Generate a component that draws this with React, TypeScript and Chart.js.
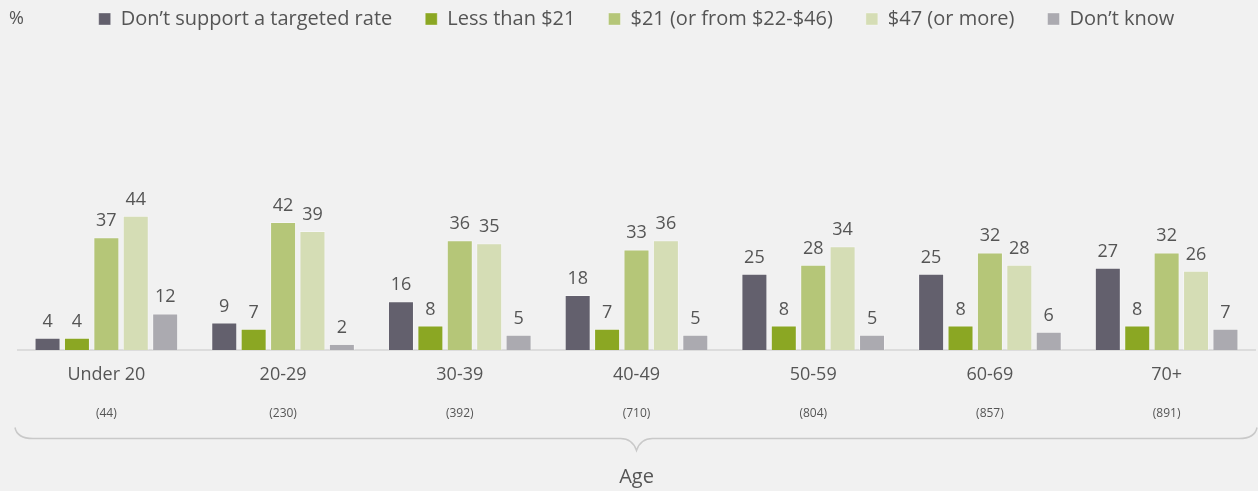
import React, { useEffect, useRef } from "react";
import { Chart, registerables } from "chart.js";

Chart.register(...registerables);

const categories = ["Under 20", "20-29", "30-39", "40-49", "50-59", "60-69", "70+"];
const sampleSizes = ["(44)", "(230)", "(392)", "(710)", "(804)", "(857)", "(891)"];
const seriesNames = [
  "Don\u2019t support a targeted rate",
  "Less than $21",
  "$21 (or from $22-$46)",
  "$47 (or more)",
  "Don\u2019t know",
];
const dontSupport = [4, 9, 16, 18, 25, 25, 27];
const lessThan21 = [4, 7, 8, 7, 8, 8, 8];
const from21 = [37, 42, 36, 33, 28, 32, 32];
const over47 = [44, 39, 35, 36, 34, 28, 26];
const dontKnow = [12, 2, 5, 5, 5, 6, 7];
const seriesColors = ["#63606d", "#8ba723", "#b5c678", "#d5ddb5", "#abaab0"];
const axisTitle = "Age";
const unitLabel = "%";

const FONT = "'Open Sans', sans-serif";
const TEXT = "#555555";

const decorPlugin = {
  id: "decor",
  afterDatasetsDraw(chart: any) {
    const ctx = chart.ctx;
    ctx.save();
    ctx.fillStyle = TEXT;
    ctx.font = `18px ${FONT}`;
    ctx.textAlign = "center";
    ctx.textBaseline = "alphabetic";
    chart.data.datasets.forEach((ds: any, i: number) => {
      const meta = chart.getDatasetMeta(i);
      meta.data.forEach((bar: any, j: number) => {
        ctx.fillText(String(ds.data[j]), bar.x, bar.y - 11);
      });
    });
    ctx.restore();
  },
  afterDraw(chart: any) {
    const ctx = chart.ctx;
    const area = chart.chartArea;
    ctx.save();
    // unit label
    ctx.fillStyle = TEXT;
    ctx.font = `18px ${FONT}`;
    ctx.textAlign = "left";
    ctx.textBaseline = "middle";
    ctx.fillText(unitLabel, 9, 19);
    // brace
    const yLine = area.bottom + 88.5;
    const left = area.left - 3;
    const right = area.right + 2;
    const mid = (area.left + area.right) / 2;
    ctx.strokeStyle = "#c9c9c9";
    ctx.lineWidth = 1.5;
    ctx.beginPath();
    ctx.moveTo(left, yLine - 11);
    ctx.quadraticCurveTo(left + 2, yLine, left + 18, yLine);
    ctx.lineTo(mid - 16, yLine);
    ctx.quadraticCurveTo(mid - 4, yLine, mid, yLine + 12);
    ctx.quadraticCurveTo(mid + 4, yLine, mid + 16, yLine);
    ctx.lineTo(right - 18, yLine);
    ctx.quadraticCurveTo(right - 2, yLine, right, yLine - 11);
    ctx.stroke();
    ctx.restore();
  },
};

export default function App() {
  const ref = useRef<HTMLCanvasElement | null>(null);

  useEffect(() => {
    document.body.style.margin = "0";
    document.body.style.background = "#f1f1f1";
    const series = [dontSupport, lessThan21, from21, over47, dontKnow];
    const chart = new Chart(ref.current as HTMLCanvasElement, {
      type: "bar",
      data: {
        labels: categories,
        datasets: series.map((d, i) => ({
          label: seriesNames[i],
          data: d,
          backgroundColor: seriesColors[i],
          borderColor: "rgba(255,255,255,0.35)",
          borderWidth: 1,
          categoryPercentage: 0.832,
          barPercentage: 0.884,
          xAxisID: "x",
          yAxisID: "y",
        })),
      },
      options: {
        animation: false,
        responsive: true,
        maintainAspectRatio: false,
        layout: { padding: { top: -24, left: 18, right: 3, bottom: 0 } },
        plugins: {
          tooltip: { enabled: false },
          legend: {
            position: "top",
            labels: {
              boxWidth: 12,
              boxHeight: 12,
              padding: 33,
              color: TEXT,
              font: { family: FONT, size: 20 },
            },
          },
        },
        scales: {
          x: {
            type: "category",
            weight: 0,
            offset: true,
            grid: { display: false, drawTicks: false },
            border: { display: true, color: "#dcdcdc", width: 2 },
            ticks: {
              padding: 14,
              color: TEXT,
              maxRotation: 0,
              font: { family: FONT, size: 18 },
            },
          },
          x2: {
            type: "category",
            position: "bottom",
            weight: 1,
            labels: sampleSizes,
            offset: true,
            grid: { display: false, drawTicks: false },
            border: { display: false },
            ticks: {
              padding: 7,
              color: TEXT,
              maxRotation: 0,
              font: { family: FONT, size: 12 },
            },
            title: {
              display: true,
              text: axisTitle,
              color: TEXT,
              font: { family: FONT, size: 20 },
              padding: { top: 37, bottom: 2 },
            },
          },
          y: {
            display: false,
            min: 0,
            max: 102,
          },
        },
      },
      plugins: [decorPlugin],
    });
    return () => chart.destroy();
  }, []);

  return (
    <div style={{ width: 1258, height: 491, background: "#f1f1f1", position: "relative" }}>
      <canvas ref={ref} />
    </div>
  );
}
